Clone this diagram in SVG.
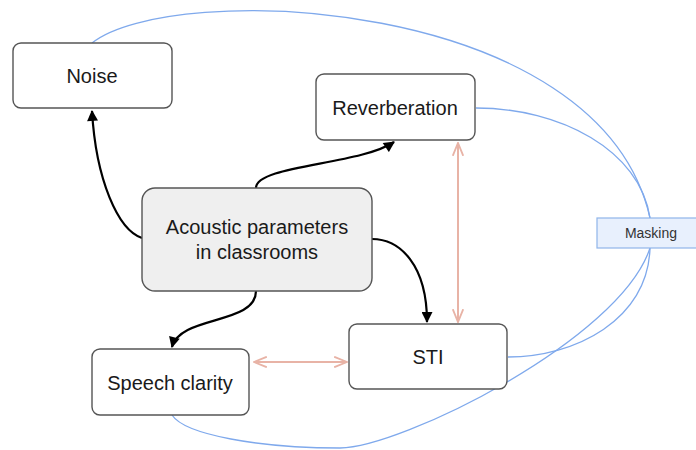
<svg xmlns="http://www.w3.org/2000/svg" width="696" height="450" viewBox="0 0 696 450">
<defs>
<style>
.box{fill:#ffffff;stroke:#555555;stroke-width:1.4}
.main{fill:#efefef;stroke:#555555;stroke-width:1.4}
.mask{fill:#e8f0fd;stroke:#8fb5ea;stroke-width:1.2}
.t{font-family:"Liberation Sans",Arial,sans-serif;font-size:20px;fill:#1a1a1a;text-anchor:middle}
.tm{font-family:"Liberation Sans",Arial,sans-serif;font-size:14px;fill:#333333;text-anchor:middle}
.blue{fill:none;stroke:#7fa9ec;stroke-width:1.3}
.blk{fill:none;stroke:#000000;stroke-width:2.2}
.pink{fill:none;stroke:#e8b3a6;stroke-width:2}
</style>
<marker id="ah" viewBox="0 0 10 10" refX="9" refY="5" markerWidth="5.5" markerHeight="5" orient="auto" markerUnits="strokeWidth">
<path d="M0,0 L10,5 L0,10 z" fill="#000000"/>
</marker>
<marker id="ph" viewBox="0 0 12 10" refX="11" refY="5" markerWidth="7" markerHeight="6" orient="auto-start-reverse" markerUnits="strokeWidth">
<path d="M0,0.5 L11,5 L0,9.5" fill="none" stroke="#e8b3a6" stroke-width="1.6"/>
</marker>
</defs>
<rect x="0" y="0" width="696" height="450" fill="#ffffff"/>
<g id="connectors">
<path class="blue" d="M92,43 C170,-20 600,-5 650,218"/>
<path class="blue" d="M476,108 C560,108 640,150 650,218"/>
<path class="blue" d="M508,357 C575,357 648,320 650,248"/>
<path class="blue" d="M172,415 C185,435 260,448 340,448 C400,448 620,340 650,248"/>
<path class="blk" d="M142,238 C118,230 96,180 92,111" marker-end="url(#ah)"/>
<path class="blk" d="M256,188 C256,165 360,165 394,142" marker-end="url(#ah)"/>
<path class="blk" d="M372,239 C400,239 427,265 427,322" marker-end="url(#ah)"/>
<path class="blk" d="M256,291 C256,325 180,315 172,347" marker-end="url(#ah)"/>
<path class="pink" d="M458,143 L458,322" marker-start="url(#ph)" marker-end="url(#ph)"/>
<path class="pink" d="M254,362 L347,362" marker-start="url(#ph)" marker-end="url(#ph)"/>
</g>
<g id="noise">
<rect class="box" x="13" y="43" width="159" height="65" rx="8"/>
<text class="t" x="92" y="83">Noise</text>
</g>
<g id="reverberation">
<rect class="box" x="316" y="74" width="159" height="66" rx="8"/>
<text class="t" x="395" y="115">Reverberation</text>
</g>
<g id="acoustic">
<rect class="main" x="142" y="188" width="230" height="103" rx="13"/>
<text class="t" x="257" y="234">Acoustic parameters</text>
<text class="t" x="257" y="259">in classrooms</text>
</g>
<g id="speech-clarity">
<rect class="box" x="92" y="349" width="157" height="66" rx="8"/>
<text class="t" x="170" y="390">Speech clarity</text>
</g>
<g id="sti">
<rect class="box" x="349" y="324" width="158" height="65" rx="8"/>
<text class="t" x="428" y="364">STI</text>
</g>
<g id="masking">
<rect class="mask" x="597" y="218" width="105" height="30"/>
<text class="tm" x="651" y="238">Masking</text>
</g>
</svg>
